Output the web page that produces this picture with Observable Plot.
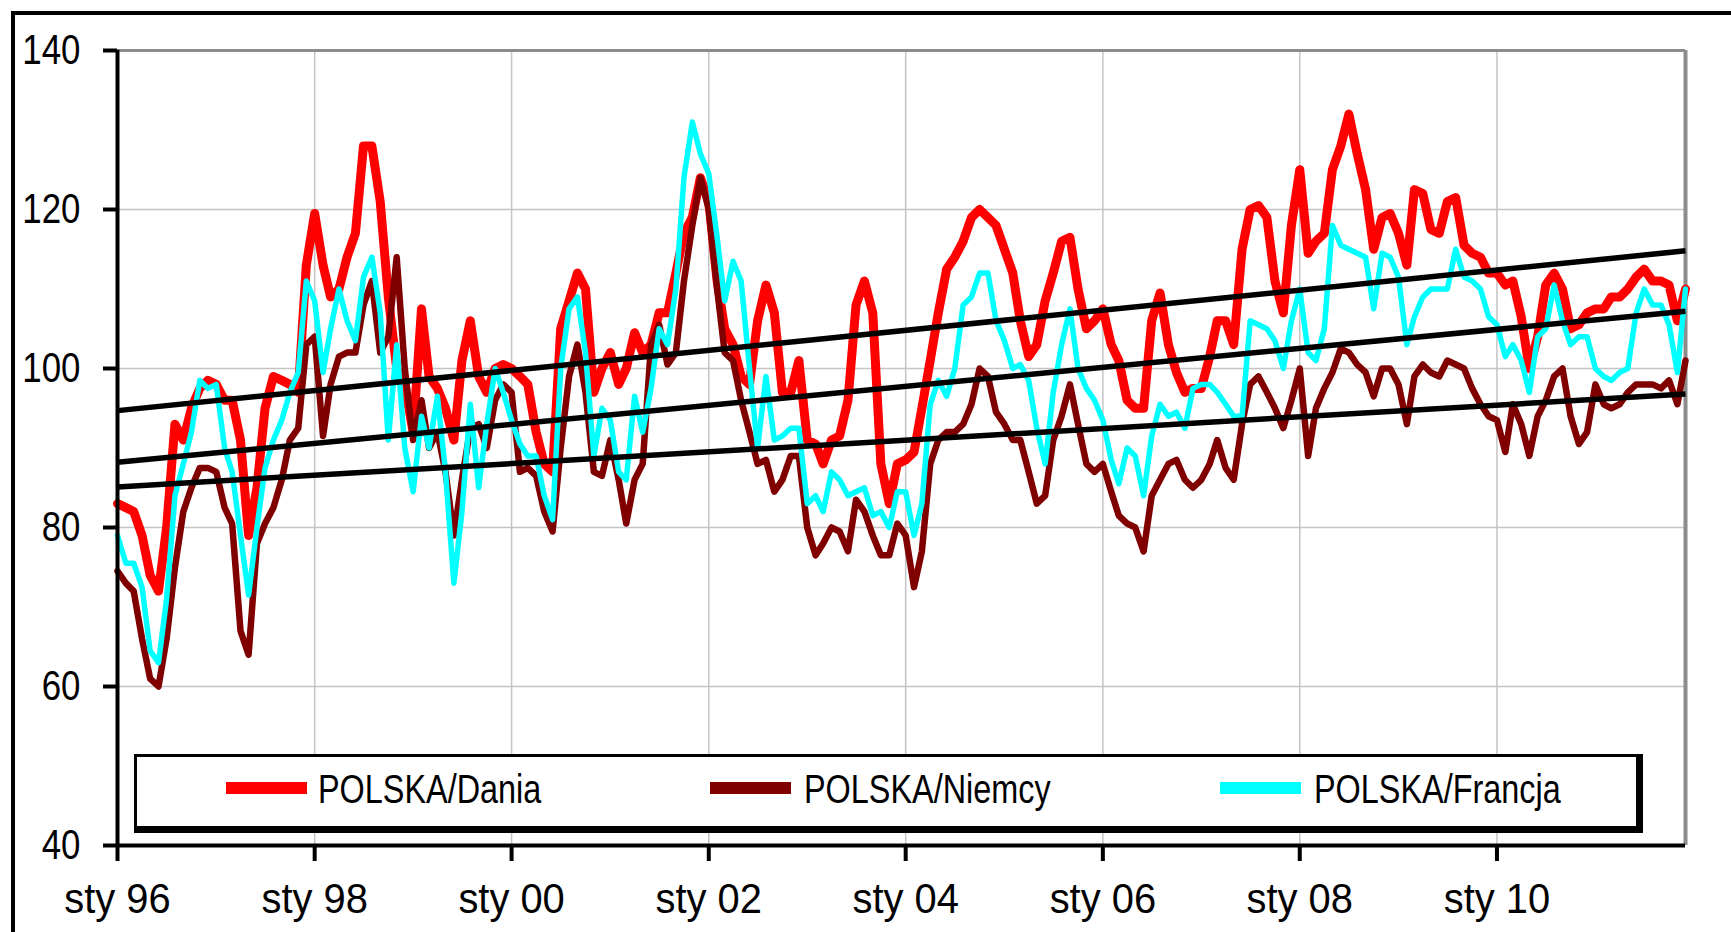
<!DOCTYPE html>
<html>
<head>
<meta charset="utf-8">
<script src="https://cdn.jsdelivr.net/npm/d3@7"></script>
<script src="https://cdn.jsdelivr.net/npm/@observablehq/plot@0.6"></script>
<style>
  html, body { margin: 0; padding: 0; background: #fff; }
  #wrap { position: relative; width: 1731px; height: 932px; overflow: hidden; font-family: "Liberation Sans", Arial, sans-serif; background: #fff; }
  #frame { position: absolute; left: 11px; top: 11px; width: 1800px; height: 1000px; border-left: 4px solid #000; border-top: 4px solid #000; }
  #chart { position: absolute; left: 0; top: 0; }
  #legend { position: absolute; left: 134px; top: 754px; width: 1509px; height: 79px; box-sizing: border-box;
            border-style: solid; border-color: #000; border-width: 3px 7px 7px 3px; background: #fff; }
  .sw { position: absolute; top: 25px; width: 81px; height: 12px; }
  .lt { position: absolute; top: 12px; height: 40px; line-height: 40px; font-size: 40px; color: #000; white-space: nowrap;
        transform: scaleX(0.81); transform-origin: 0 50%; }
</style>
</head>
<body>
<div id="wrap">
  <div id="frame"></div>
  <div id="chart"></div>
  <div id="legend"></div>
</div>
<script>
// ---- data (monthly, Jan 1996 – Dec 2011) ----
const seriesNames = ["POLSKA/Dania", "POLSKA/Niemcy", "POLSKA/Francja"];
const seriesColors = ["#ff0000", "#800000", "#00ffff"];

const daniaValues = [
  83, 82.5, 82, 79, 74, 72, 80, 93, 91, 95, 97.5, 98.5,
  98, 96, 96, 91, 79, 85, 95, 99, 98.5, 98, 97, 113,
  119.5, 113, 109, 110, 114, 117, 128, 128, 121, 109, 100, 98,
  92, 107.5, 99, 97.5, 95, 91, 101, 106, 99, 97, 100, 100.5,
  100, 99, 98, 92, 88, 87, 105, 108.5, 112, 110, 97, 100,
  102, 98, 100, 104.5, 102, 103, 107, 107, 112, 117, 119, 124,
  121, 111, 105, 103, 99, 98, 106, 110.5, 107, 97, 97, 101,
  91, 90.5, 88, 91, 91.5, 96, 108, 111, 107, 88, 83, 88,
  88.5, 89.5, 95, 101, 107, 112.5, 114, 116, 119, 120, 119, 118,
  115, 112, 106, 101.5, 103, 108.5, 112, 116, 116.5, 110, 105, 106,
  107.5, 103, 101, 96, 95, 95, 106, 109.5, 103, 99.5, 97, 97.5,
  97.5, 101.5, 106, 106, 103, 115, 120, 120.5, 119, 111, 107, 118,
  125, 114.5, 116, 117, 125, 128, 132, 127, 122.5, 115, 119, 119.5,
  117, 113, 122.5, 122, 117.5, 117, 121, 121.5, 115.5, 114.5, 114, 112,
  112, 110.5, 111, 106.5, 100, 104, 110.5, 112, 110, 105, 105.5, 107,
  107.5, 107.5, 109, 109, 110, 111.5, 112.5, 111, 111, 110.5, 106, 110
];

const niemcyValues = [
  74.5, 73, 72, 66, 61, 60, 66, 75, 82, 85, 87.5, 87.5,
  87, 82.5, 80.5, 67, 64, 78, 80.5, 82.5, 86, 91, 92.5, 103,
  104, 91.5, 98, 101.5, 102, 102, 108, 111, 102, 104, 114, 100,
  91, 96, 90, 92, 87, 79, 86, 92.5, 93, 90, 96, 98,
  97, 87, 87.5, 86.5, 82, 79.5, 90, 99, 103, 97, 87, 86.5,
  91, 86, 80.5, 86, 88, 103, 105.5, 100.5, 102, 111, 118, 124,
  120, 110, 102, 101, 96, 92, 88, 88.5, 84.5, 86, 89, 89,
  80, 76.5, 78, 80, 79.5, 77, 83.5, 82, 79, 76.5, 76.5, 80.5,
  79, 72.5, 77, 88, 91, 92, 92, 93, 95.5, 100, 99, 94.5,
  93, 91, 91, 87, 83, 84, 91, 94, 98, 93, 88, 87,
  88, 84.5, 81.5, 80.5, 80, 77, 84, 86, 88, 88.5, 86, 85,
  86, 88, 91, 87.5, 86, 93, 98, 99, 97, 95, 92.5, 96,
  100, 89, 95, 97.5, 99.5, 102.5, 102, 100.5, 99.5, 96.5, 100, 100,
  98, 93, 99, 100.5, 99.5, 99, 101, 100.5, 100, 97.5, 95.5, 94,
  93.5, 89.5, 95.5, 93, 89, 94, 96, 99, 100, 94, 90.5, 92,
  98, 95.5, 95, 95.5, 97, 98, 98, 98, 97.5, 98.5, 95.5, 101
];

const francjaValues = [
  79, 75.5, 75.5, 72.5, 64.5, 63, 71, 84, 88, 92, 98.5, 97.5,
  98, 90, 87, 79, 71.5, 80, 87.5, 91, 93.5, 97, 99.5, 111,
  108.5, 99.5, 105, 110, 106, 103.5, 111.5, 114, 107, 91, 103, 90,
  84.5, 94, 90, 96.5, 87, 73, 82, 95.5, 85, 93, 100, 97,
  93.5, 90.5, 89, 89, 84, 81, 100, 107.5, 109, 102, 89, 95,
  93.5, 87, 86, 96.5, 92, 97.5, 105, 103, 110, 124, 131, 127,
  124.5, 116.5, 108.5, 113.5, 111, 100, 90, 99, 91, 91.5, 92.5, 92.5,
  83, 84, 82, 87, 86, 84, 84.5, 85, 81.5, 82, 80, 84.5,
  84.5, 79, 83, 95.5, 98.5, 96.5, 100, 108, 109, 112, 112, 106,
  103.5, 100, 100.5, 98.5, 92.5, 88, 97, 103, 107.5, 100, 97.5, 96,
  93.5, 88.5, 85.5, 90, 89, 84, 91.5, 95.5, 94, 94.5, 92.5, 97.5,
  98, 98, 97, 95.5, 94, 94, 106, 105.5, 105, 103.5, 100, 106,
  110, 102, 101, 105, 118, 115.5, 115, 114.5, 114, 107.5, 114.5, 114,
  111.5, 103, 106.5, 109, 110, 110, 110, 115, 111.5, 111, 110, 106.5,
  105.5, 101.5, 103, 101, 97, 104, 105, 110.5, 106, 103, 104, 104,
  100, 99, 98.5, 99.5, 100, 107, 110, 108, 108, 105.5, 99.5, 110
];

// straight trend lines (start value Jan 96, end value Dec 11)
const trendStart = [94.7, 88.2, 85.1];
const trendEnd   = [114.8, 107.2, 96.8];

const yTicks = [40, 60, 80, 100, 120, 140];
const xTickYears = [1996, 1998, 2000, 2002, 2004, 2006, 2008, 2010];
const xTickLabels = ["sty 96", "sty 98", "sty 00", "sty 02", "sty 04", "sty 06", "sty 08", "sty 10"];

// ---- build ----
const startDate = new Date(Date.UTC(1996, 0, 1));
const endDate = new Date(Date.UTC(2011, 11, 1));
const months = d3.utcMonth.range(startDate, new Date(Date.UTC(2012, 0, 1)));
const allValues = [daniaValues, niemcyValues, francjaValues];
const seriesRows = allValues.map((vals, k) => vals.map((v, i) => ({date: months[i], value: v, name: seriesNames[k]})));
const trendRows = trendStart.map((s, i) => ({x1: startDate, y1: s, x2: endDate, y2: trendEnd[i]}));
const xTicks = xTickYears.map(y => new Date(Date.UTC(y, 0, 1)));
const labelOf = new Map(xTicks.map((d, i) => [+d, xTickLabels[i]]));
const gridColor = "#c4c4c4";

const chart = Plot.plot({
  width: 1731,
  height: 932,
  marginLeft: 117,
  marginRight: 46,
  marginTop: 50,
  marginBottom: 87,
  style: {fontFamily: '"Liberation Sans", Arial, sans-serif', color: "#000", background: "transparent", overflow: "visible"},
  x: {type: "utc", domain: [startDate, endDate]},
  y: {domain: [40, 140]},
  marks: [
    Plot.gridY({ticks: yTicks.filter(t => t > 40 && t < 140), stroke: gridColor, strokeOpacity: 1, strokeWidth: 1.5}),
    Plot.gridX({ticks: xTicks.slice(1), stroke: gridColor, strokeOpacity: 1, strokeWidth: 1.5}),
    Plot.ruleY([140], {stroke: "#8c8c8c", strokeWidth: 3}),
    Plot.ruleX([endDate], {stroke: "#8c8c8c", strokeWidth: 4}),
    Plot.line(seriesRows[0], {x: "date", y: "value", stroke: seriesColors[0], strokeWidth: 9, strokeLinejoin: "round"}),
    Plot.line(seriesRows[1], {x: "date", y: "value", stroke: seriesColors[1], strokeWidth: 6.5, strokeLinejoin: "round"}),
    Plot.line(seriesRows[2], {x: "date", y: "value", stroke: seriesColors[2], strokeWidth: 5.5, strokeLinejoin: "round"}),
    Plot.link(trendRows, {x1: "x1", y1: "y1", x2: "x2", y2: "y2", stroke: "#000", strokeWidth: 5.5}),
    Plot.ruleX([startDate], {stroke: "#000", strokeWidth: 4}),
    Plot.ruleY([40], {stroke: "#000", strokeWidth: 4}),
    Plot.axisY({ticks: yTicks, tickSize: 14, tickPadding: 23, strokeWidth: 4, fontSize: 42, label: null}),
    Plot.axisX({ticks: xTicks, tickFormat: d => labelOf.get(+d), tickSize: 16, tickPadding: 22, strokeWidth: 4, fontSize: 42, label: null})
  ]
});

// narrow the axis type (original uses a condensed face)
chart.querySelectorAll('[aria-label="y-axis tick label"] text').forEach(t => {
  t.setAttribute("transform", (t.getAttribute("transform") || "") + " scale(0.83,1)");
});
chart.querySelectorAll('[aria-label="x-axis tick label"] text').forEach(t => {
  t.setAttribute("transform", (t.getAttribute("transform") || "") + " scale(0.95,1)");
});
document.getElementById("chart").appendChild(chart);

// legend
const legend = document.getElementById("legend");
const swLeft = [89, 573, 1083];
const txLeft = [181, 667, 1177];
seriesNames.forEach((name, i) => {
  const sw = document.createElement("div");
  sw.className = "sw";
  sw.style.left = swLeft[i] + "px";
  sw.style.background = seriesColors[i];
  legend.appendChild(sw);
  const tx = document.createElement("div");
  tx.className = "lt";
  tx.style.left = txLeft[i] + "px";
  tx.textContent = name;
  legend.appendChild(tx);
});
</script>
</body>
</html>
